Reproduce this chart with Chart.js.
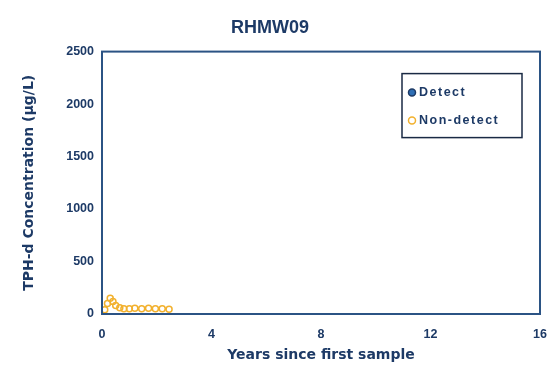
<!DOCTYPE html>
<html>
<head>
<meta charset="utf-8">
<script src="https://cdn.jsdelivr.net/npm/chart.js@4/dist/chart.umd.min.js"></script>
<style>
html,body{margin:0;padding:0;background:#fff;}
#wrap{width:547px;height:373px;}
</style>
</head>
<body>
<div id="wrap"><canvas id="c" width="547" height="373"></canvas></div>
<script>
const chartTitle = "RHMW09";
const xTitle = "Years since first sample";
const yTitle = "TPH-d Concentration (µg/L)";
const xTicks = [0, 4, 8, 12, 16];
const yTicks = [0, 500, 1000, 1500, 2000, 2500];
const detectYears = [];
const detectValues = [];
const nonDetectYears = [0.1, 0.2, 0.3, 0.4, 0.5, 0.65, 0.8, 1.0, 1.2, 1.45, 1.7, 1.95, 2.2, 2.45];
const nonDetectValues = [40, 100, 150, 120, 80, 60, 50, 50, 55, 50, 55, 50, 50, 45];

const NAVY = "#1d3a66";
const FRAME = "#2b5384";
const ORANGE = "#f2b12e";
const BLUE = "#2f6fb5";
const FONT = "'Liberation Sans', Arial, sans-serif";
const WIDE = "'DejaVu Sans', sans-serif";

const toPts = (xs, ys) => xs.map((x, i) => ({x: x, y: ys[i]}));

const framePlugin = {
  id: 'frame',
  afterDraw(chart) {
    const {ctx, chartArea: a} = chart;
    ctx.save();
    ctx.strokeStyle = FRAME;
    ctx.lineWidth = 2;
    ctx.strokeRect(a.left, a.top, a.right - a.left, a.bottom - a.top);
    const bx = a.right - 138, by = a.top + 22, bw = 120, bh = 64;
    ctx.fillStyle = "#fff";
    ctx.fillRect(bx, by, bw, bh);
    ctx.strokeStyle = "#1a2a44";
    ctx.lineWidth = 1.5;
    ctx.strokeRect(bx, by, bw, bh);
    const ds = chart.data.datasets;
    ctx.font = "bold 12.5px " + FONT;
    if ('letterSpacing' in ctx) ctx.letterSpacing = "1.5px";
    ctx.textBaseline = "middle";
    ds.forEach((d, i) => {
      const cy = by + 19 + i * 28;
      const cx = bx + 10;
      ctx.beginPath();
      ctx.arc(cx, cy, 3.5, 0, Math.PI * 2);
      if (d.pointBackgroundColor && d.pointBackgroundColor !== 'transparent') {
        ctx.fillStyle = d.pointBackgroundColor;
        ctx.fill();
      }
      ctx.strokeStyle = d.pointBorderColor;
      ctx.lineWidth = 1.5;
      ctx.stroke();
      ctx.fillStyle = NAVY;
      ctx.fillText(d.label, cx + 7, cy);
    });
    ctx.restore();
  }
};

new Chart(document.getElementById('c'), {
  type: 'scatter',
  data: {
    datasets: [
      {
        label: 'Detect',
        data: toPts(detectYears, detectValues),
        pointBackgroundColor: BLUE,
        pointBorderColor: NAVY,
        pointRadius: 3.5,
        showLine: false
      },
      {
        label: 'Non-detect',
        data: toPts(nonDetectYears, nonDetectValues),
        pointBackgroundColor: 'transparent',
        pointBorderColor: ORANGE,
        pointBorderWidth: 1.5,
        pointRadius: 3,
        showLine: false
      }
    ]
  },
  options: {
    responsive: false,
    animation: false,
    layout: {padding: {top: 0, left: 0, right: 7, bottom: 0}},
    plugins: {
      legend: {display: false},
      tooltip: {enabled: false},
      title: {
        display: true,
        text: chartTitle,
        color: NAVY,
        font: {family: FONT, size: 18, weight: 'bold'},
        padding: {top: 17, bottom: 13}
      }
    },
    scales: {
      x: {
        type: 'linear',
        min: 0, max: 16,
        afterBuildTicks(s) { s.ticks = xTicks.map(v => ({value: v})); },
        afterFit(s) { s.height = 59; s.paddingRight = 0; s.paddingLeft = 0; },
        grid: {display: false, drawTicks: false},
        border: {display: false},
        ticks: {
          padding: 13,
          color: NAVY,
          font: {family: FONT, size: 12.5, weight: 'bold'},
          maxRotation: 0,
          callback: v => String(v)
        },
        title: {
          display: true,
          text: xTitle,
          color: NAVY,
          font: {family: WIDE, size: 14, weight: 'bold'},
          padding: {top: 4, bottom: 9}
        }
      },
      y: {
        type: 'linear',
        min: 0, max: 2500,
        afterBuildTicks(s) { s.ticks = yTicks.map(v => ({value: v})); },
        afterFit(s) { s.width = 102; s.paddingTop = 0; s.paddingBottom = 0; },
        grid: {display: false, drawTicks: false},
        border: {display: false},
        ticks: {
          padding: 8,
          color: NAVY,
          font: {family: FONT, size: 12.5, weight: 'bold'},
          callback: v => String(v)
        },
        title: {
          display: true,
          text: yTitle,
          color: NAVY,
          font: {family: WIDE, size: 14, weight: 'bold'},
          padding: {top: 21, bottom: 4}
        }
      }
    }
  },
  plugins: [framePlugin]
});
</script>
</body>
</html>
